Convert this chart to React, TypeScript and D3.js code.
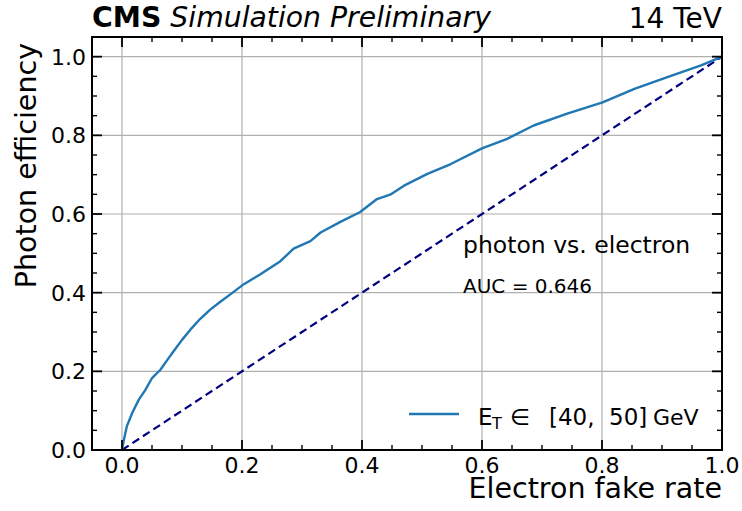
import React from "react";
import * as d3 from "d3";

const fpr = [0, 0.003, 0.008, 0.017, 0.028, 0.039, 0.05, 0.064, 0.075, 0.086, 0.1, 0.114, 0.13, 0.147, 0.165, 0.18, 0.2025, 0.23, 0.264, 0.286, 0.314, 0.331, 0.364, 0.397, 0.425, 0.447, 0.47, 0.509, 0.548, 0.6, 0.642, 0.686, 0.742, 0.801, 0.854, 0.909, 0.965, 1.0];
const tpr = [0, 0.025, 0.06, 0.094, 0.128, 0.153, 0.183, 0.204, 0.228, 0.251, 0.28, 0.306, 0.333, 0.357, 0.378, 0.395, 0.421, 0.446, 0.48, 0.512, 0.531, 0.553, 0.58, 0.605, 0.638, 0.649, 0.672, 0.702, 0.727, 0.767, 0.791, 0.825, 0.855, 0.884, 0.918, 0.948, 0.978, 1.0];
const chanceX = [0, 1];
const chanceY = [0, 1];
const xTicks = [0, 0.2, 0.4, 0.6, 0.8, 1.0];
const yTicks = [0, 0.2, 0.4, 0.6, 0.8, 1.0];
const xMinor = [-0.05, 0.05, 0.1, 0.15, 0.25, 0.3, 0.35, 0.45, 0.5, 0.55, 0.65, 0.7, 0.75, 0.85, 0.9, 0.95];
const yMinor = [0.05, 0.1, 0.15, 0.25, 0.3, 0.35, 0.45, 0.5, 0.55, 0.65, 0.7, 0.75, 0.85, 0.9, 0.95];

const W = 742, H = 511;
const L = 92, R = 722, T = 37, B = 450;
const FONT = "'DejaVu Sans', sans-serif";

export default function App() {
  const x = d3.scaleLinear().domain([-0.05, 1.0]).range([L, R]);
  const y = d3.scaleLinear().domain([0, 1.05]).range([B, T]);
  const line = d3.line<number>().x((_, i) => x(fpr[i])).y((d) => y(d));
  const diag = d3.line<number>().x((_, i) => x(chanceX[i])).y((d) => y(d));
  const fmt = d3.format(".1f");
  return (
    <svg width={W} height={H} style={{ position: "absolute", left: 0, top: 0, background: "#fff" }} fontFamily={FONT}>
      <rect x={0} y={0} width={W} height={H} fill="#fff" />
      {xTicks.map((t) => (
        <line key={"gx" + t} x1={x(t)} x2={x(t)} y1={T} y2={B} stroke="#b0b0b0" strokeWidth={1.2} />
      ))}
      {yTicks.map((t) => (
        <line key={"gy" + t} x1={L} x2={R} y1={y(t)} y2={y(t)} stroke="#b0b0b0" strokeWidth={1.2} />
      ))}
      <defs>
        <clipPath id="clip"><rect x={L} y={T} width={R - L} height={B - T} /></clipPath>
      </defs>
      <g clipPath="url(#clip)">
        <path d={diag(chanceY) || ""} fill="none" stroke="#000080" strokeWidth={2.2} strokeDasharray="8,4.5" />
        <path d={line(tpr) || ""} fill="none" stroke="#1f77b4" strokeWidth={2.4} strokeLinejoin="round" />
      </g>
      {xTicks.map((t) => (
        <g key={"tx" + t}>
          <line x1={x(t)} x2={x(t)} y1={B} y2={B - 10} stroke="#000" strokeWidth={1.8} />
          <line x1={x(t)} x2={x(t)} y1={T} y2={T + 10} stroke="#000" strokeWidth={1.8} />
          <text x={x(t)} y={473} fontSize={22} textAnchor="middle">{fmt(t)}</text>
        </g>
      ))}
      {xMinor.map((t) => (
        <g key={"mx" + t}>
          <line x1={x(t)} x2={x(t)} y1={B} y2={B - 5} stroke="#000" strokeWidth={1.4} />
          <line x1={x(t)} x2={x(t)} y1={T} y2={T + 5} stroke="#000" strokeWidth={1.4} />
        </g>
      ))}
      {yTicks.map((t) => (
        <g key={"ty" + t}>
          <line x1={L} x2={L + 10} y1={y(t)} y2={y(t)} stroke="#000" strokeWidth={1.8} />
          <line x1={R} x2={R - 10} y1={y(t)} y2={y(t)} stroke="#000" strokeWidth={1.8} />
          <text x={86} y={y(t) + 8} fontSize={22} textAnchor="end">{fmt(t)}</text>
        </g>
      ))}
      {yMinor.map((t) => (
        <g key={"my" + t}>
          <line x1={L} x2={L + 5} y1={y(t)} y2={y(t)} stroke="#000" strokeWidth={1.4} />
          <line x1={R} x2={R - 5} y1={y(t)} y2={y(t)} stroke="#000" strokeWidth={1.4} />
        </g>
      ))}
      <rect x={L} y={T} width={R - L} height={B - T} fill="none" stroke="#000" strokeWidth={2} />
      <text x={R} y={498} fontSize={28.5} textAnchor="end">Electron fake rate</text>
      <text transform={`translate(36,${T + 6}) rotate(-90)`} fontSize={28.5} textAnchor="end">Photon efficiency</text>
      <text x={L} y={27} fontSize={28.3}>
        <tspan fontWeight="bold">CMS</tspan>
        <tspan fontStyle="italic"> Simulation Preliminary</tspan>
      </text>
      <text x={R} y={28} fontSize={28} textAnchor="end">14 TeV</text>
      <text x={463} y={253} fontSize={23.5}>photon vs. electron</text>
      <text x={463} y={293} fontSize={20}>AUC = 0.646</text>
      <line x1={409} x2={459} y1={414} y2={414} stroke="#1f77b4" strokeWidth={2.4} />
      <text y={425} fontSize={23}>
        <tspan x={478}>E</tspan>
        <tspan x={492} fontSize={16} dy={4}>T</tspan>
        <tspan x={510} dy={-4}>{"\u2208"}</tspan>
        <tspan x={549}>[40,</tspan>
        <tspan x={609}>50]</tspan>
        <tspan x={653} fontSize={22}>GeV</tspan>
      </text>
    </svg>
  );
}
